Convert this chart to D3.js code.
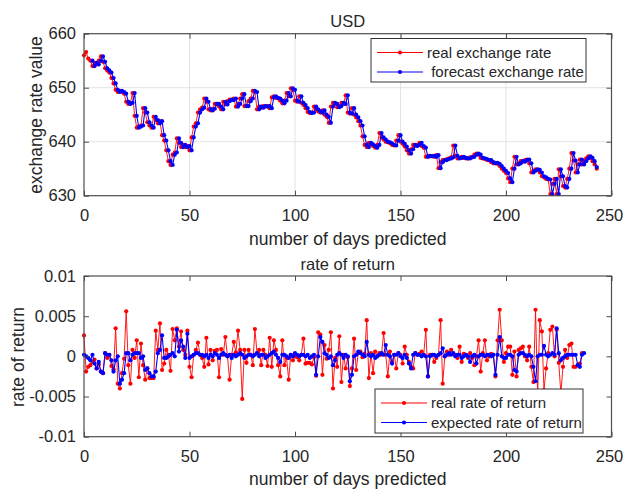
<!DOCTYPE html>
<html>
<head>
<meta charset="utf-8">
<script src="https://cdn.jsdelivr.net/npm/d3@7/dist/d3.min.js"></script>
<style>
  html, body { margin: 0; padding: 0; background: #fff; }
  svg { display: block; }
  text { font-family: "Liberation Sans", Arial, Helvetica, sans-serif; fill: #262626; }
</style>
</head>
<body>
<svg id="chart" width="624" height="489"></svg>
<script>
// ---------------- DATA ----------------
const topTitle = "USD";
const bottomTitle = "rate of return";
const xLabel = "number of days predicted";
const topYLabel = "exchange rate value";
const bottomYLabel = "rate of return";
const topLegend = ["real exchange rate", " forecast exchange rate"];
const bottomLegend = ["real rate of return", "expected rate of return"];
const xTicks = [0, 50, 100, 150, 200, 250];
const topYTicks = [630, 640, 650, 660];
const bottomYTicks = [-0.01, -0.005, 0, 0.005, 0.01];
const bottomYTickLabels = ["-0.01", "-0.005", "0", "0.005", "0.01"];

const realRate = [
656.0,656.6,655.4,655.0,654.0,654.6,654.3,655.0,655.8,654.8,
653.6,653.2,652.8,651.8,650.8,649.6,649.2,649.4,649.2,648.9,
647.4,647.0,647.2,649.0,644.8,642.6,642.8,643.0,646.2,645.4,
643.6,643.0,642.6,644.6,644.0,643.4,643.8,641.2,640.2,638.4,
636.4,635.7,637.6,638.0,640.6,639.8,639.0,639.4,639.0,639.2,
638.4,640.8,642.8,643.4,645.4,646.0,646.3,648.0,647.4,646.0,
645.8,646.1,647.0,647.0,646.5,646.0,647.4,646.9,647.5,647.8,
647.7,648.0,646.5,647.0,648.0,648.8,646.6,646.6,647.5,648.0,
649.4,649.2,646.0,646.5,646.3,646.6,646.5,646.6,646.2,648.2,
648.4,648.1,648.0,647.6,647.1,647.6,649.0,648.4,649.9,649.6,
647.6,647.4,648.4,647.2,646.8,646.2,645.5,645.3,645.4,646.5,
646.0,645.6,645.4,645.8,645.0,644.6,643.5,646.5,647.2,647.0,
646.4,646.6,647.2,647.0,648.6,645.4,645.2,646.2,645.0,644.5,
643.8,643.0,641.0,639.4,639.0,639.8,639.5,639.2,638.9,639.4,
641.6,640.8,640.4,640.0,639.9,639.7,639.4,639.3,640.2,641.2,
640.0,639.6,639.1,638.4,637.8,638.6,639.4,639.2,639.4,639.8,
639.2,638.9,637.2,637.4,637.3,637.4,637.2,637.5,635.1,636.2,
636.6,636.6,636.8,636.9,637.1,639.3,637.4,636.9,637.0,637.2,
637.0,636.9,636.9,637.1,637.2,637.6,637.8,637.6,637.0,636.9,
636.8,636.6,636.6,636.2,636.0,636.1,635.9,635.5,635.0,634.6,
634.2,633.2,632.5,635.0,637.2,635.8,636.0,636.4,636.3,636.6,
636.7,636.0,634.3,634.6,634.9,634.8,634.3,633.6,633.4,633.1,
633.0,630.3,632.2,633.1,630.3,634.9,633.6,631.8,631.5,633.1,
635.0,637.9,636.5,634.3,635.8,636.7,635.8,636.4,636.9,637.3,
637.0,636.4,635.8,635.0
];

const forecastRate = [
null,null,null,null,655.0,654.0,654.6,654.3,655.0,655.8,
654.8,653.6,653.2,652.8,651.8,650.8,649.6,649.2,649.4,649.2,
648.9,647.4,647.0,647.2,649.0,644.8,642.6,642.8,643.0,646.2,
645.4,643.6,643.0,642.6,644.6,644.0,643.4,643.8,641.2,640.2,
638.4,636.4,635.7,637.6,638.0,640.6,639.8,639.0,639.4,639.0,
639.2,638.4,640.8,642.8,643.4,645.4,646.0,646.3,648.0,647.4,
646.0,645.8,646.1,647.0,647.0,646.5,646.0,647.4,646.9,647.5,
647.8,647.7,648.0,646.5,647.0,648.0,648.8,646.6,646.6,647.5,
648.0,649.4,649.2,646.0,646.5,646.3,646.6,646.5,646.6,646.2,
648.2,648.4,648.1,648.0,647.6,647.1,647.6,649.0,648.4,649.9,
649.6,647.6,647.4,648.4,647.2,646.8,646.2,645.5,645.3,645.4,
646.5,646.0,645.6,645.4,645.8,645.0,644.6,643.5,646.5,647.2,
647.0,646.4,646.6,647.2,647.0,648.6,645.4,645.2,646.2,645.0,
644.5,643.8,643.0,641.0,639.4,639.0,639.8,639.5,639.2,638.9,
639.4,641.6,640.8,640.4,640.0,639.9,639.7,639.4,639.3,640.2,
641.2,640.0,639.6,639.1,638.4,637.8,638.6,639.4,639.2,639.4,
639.8,639.2,638.9,637.2,637.4,637.3,637.4,637.2,637.5,635.1,
636.2,636.6,636.6,636.8,636.9,637.1,639.3,637.4,636.9,637.0,
637.2,637.0,636.9,636.9,637.1,637.2,637.6,637.8,637.6,637.0,
636.9,636.8,636.6,636.6,636.2,636.0,636.1,635.9,635.5,635.0,
634.6,634.2,633.2,632.5,635.0,637.2,635.8,636.0,636.4,636.3,
636.6,636.7,636.0,634.3,634.6,634.9,634.8,634.3,633.6,633.4,
633.1,633.0,630.3,632.2,633.1,630.3,634.9,633.6,631.8,631.5,
633.1,635.0,637.9,636.5,634.3,635.8,636.7,635.8,636.4,636.9,
637.3,637.0,636.4,635.3
];

const realReturn = [
0.0026,-0.0019,-0.0013,-0.0011,-0.0007,-0.0004,-0.0015,-0.0010,-0.0019,-0.0021,
0.0004,-0.0002,0.0002,-0.0012,-0.0016,0.0035,-0.0034,-0.0040,-0.0021,-0.0003,
0.0056,-0.0011,-0.0034,0.0008,-0.0002,0.0020,-0.0026,0.0016,-0.0011,-0.0029,
-0.0015,-0.0027,-0.0027,-0.0027,0.0032,0.0008,0.0041,-0.0017,-0.0009,0.0008,
0.0002,-0.0018,0.0034,0.0020,0.0035,0.0012,0.0031,0.0008,0.0002,0.0032,
-0.0013,-0.0026,0.0002,0.0008,0.0017,0.0002,-0.0002,-0.0013,0.0023,-0.0010,
0.0008,-0.0005,0.0007,0.0008,-0.0026,0.0009,0.0002,0.0024,0.0000,-0.0029,
0.0002,0.0018,0.0005,0.0032,0.0008,-0.0053,0.0008,-0.0008,0.0008,0.0002,
-0.0011,0.0034,0.0004,0.0008,-0.0011,0.0008,0.0002,-0.0012,0.0023,-0.0013,
0.0020,0.0008,-0.0011,-0.0025,0.0020,-0.0011,-0.0002,-0.0029,0.0002,-0.0005,
0.0000,-0.0001,-0.0005,0.0002,0.0022,-0.0009,-0.0008,-0.0008,-0.0010,-0.0001,
-0.0024,0.0030,0.0027,-0.0023,0.0014,-0.0003,0.0008,0.0030,-0.0040,-0.0002,
-0.0013,0.0025,-0.0032,0.0002,-0.0015,-0.0001,-0.0037,-0.0015,0.0022,-0.0017,
0.0004,0.0006,-0.0001,0.0003,0.0045,-0.0027,0.0004,-0.0021,0.0006,0.0000,
0.0004,0.0002,0.0029,0.0002,-0.0025,0.0006,-0.0007,0.0002,-0.0015,0.0004,
0.0002,-0.0009,0.0012,0.0002,-0.0007,-0.0013,-0.0015,0.0004,0.0002,0.0003,
0.0006,0.0002,0.0033,-0.0025,0.0002,0.0002,-0.0007,-0.0002,0.0002,0.0045,
-0.0034,0.0000,0.0006,0.0002,0.0008,0.0003,0.0002,-0.0002,0.0012,-0.0007,
0.0003,0.0002,-0.0002,0.0004,-0.0002,-0.0011,0.0000,0.0020,-0.0019,0.0004,
0.0020,-0.0005,0.0000,0.0003,0.0002,-0.0025,0.0020,0.0058,0.0020,-0.0007,
0.0004,0.0012,0.0012,-0.0023,0.0006,-0.0025,0.0008,0.0010,0.0012,0.0000,
-0.0005,0.0012,-0.0013,-0.0032,0.0058,-0.0048,0.0045,0.0031,-0.0042,-0.0015,
0.0004,0.0033,0.0037,0.0000,0.0033,-0.0008,-0.0046,-0.0013,0.0008,-0.0002,
0.0014,0.0016,-0.0013,-0.0013,-0.0011,-0.0009,0.0004
];

const expectedReturn = [
0.0002,0.0000,-0.0002,-0.0005,0.0002,-0.0009,-0.0015,-0.0007,-0.0019,-0.0021,
0.0004,0.0002,0.0002,-0.0005,-0.0019,-0.0005,0.0000,-0.0034,-0.0029,-0.0021,
0.0004,0.0004,-0.0005,0.0002,0.0004,0.0004,0.0004,-0.0002,0.0000,-0.0017,
-0.0015,-0.0021,-0.0025,-0.0025,-0.0019,0.0004,0.0008,0.0026,-0.0002,-0.0002,
0.0000,0.0002,0.0004,0.0000,0.0033,0.0006,0.0020,0.0012,-0.0002,0.0028,
-0.0002,0.0000,0.0002,0.0004,0.0004,0.0002,0.0002,0.0000,0.0002,-0.0002,
0.0002,0.0000,0.0004,0.0002,-0.0002,0.0002,0.0004,0.0002,0.0000,0.0002,
-0.0002,0.0002,0.0000,0.0002,0.0004,0.0002,-0.0002,0.0000,0.0002,0.0002,
0.0000,0.0002,0.0004,0.0000,0.0002,0.0002,-0.0002,0.0000,0.0002,0.0004,
0.0006,0.0002,-0.0002,-0.0007,0.0002,0.0002,0.0000,-0.0002,0.0002,0.0000,
0.0004,0.0002,0.0000,0.0002,0.0002,0.0000,0.0002,-0.0002,0.0000,0.0002,
-0.0023,0.0000,0.0024,0.0018,0.0004,0.0002,-0.0002,0.0000,-0.0011,-0.0005,
0.0002,0.0004,0.0002,-0.0002,0.0002,0.0000,-0.0031,-0.0023,0.0000,0.0002,
0.0006,0.0004,0.0002,0.0000,0.0018,0.0002,0.0000,0.0002,-0.0002,0.0000,
0.0002,0.0004,0.0002,0.0014,0.0002,0.0000,-0.0009,0.0002,0.0002,0.0004,
0.0000,-0.0002,0.0002,-0.0002,-0.0009,-0.0015,0.0002,0.0004,0.0002,0.0002,
0.0000,0.0002,0.0000,-0.0025,0.0000,0.0002,0.0002,0.0000,0.0002,0.0004,
0.0010,0.0000,0.0002,0.0004,0.0002,0.0004,0.0000,0.0002,0.0002,-0.0002,
0.0000,0.0002,0.0000,-0.0007,0.0000,0.0002,-0.0009,0.0000,0.0002,0.0002,
0.0000,0.0002,0.0002,0.0000,0.0002,-0.0023,0.0002,0.0024,0.0000,-0.0002,
-0.0002,0.0002,0.0002,0.0000,-0.0017,-0.0019,0.0002,0.0004,0.0004,0.0002,
0.0000,0.0002,0.0000,-0.0013,-0.0031,0.0000,0.0002,0.0002,0.0013,0.0002,
0.0000,0.0002,0.0004,0.0002,0.0035,0.0004,-0.0005,-0.0002,0.0000,0.0002,
0.0002,0.0002,0.0002,0.0002,-0.0011,-0.0013,0.0002,0.0004
];

// ---------------- DRAWING ----------------
const svg = d3.select("#chart");
const RED = "#ff0000", BLUE = "#0000ff";
const AXIS = "#4d4d4d";

function panel(opts) {
  const { left, right, top, bottom } = opts.box;
  const x = d3.scaleLinear().domain([0, 250]).range([left, right]);
  const y = d3.scaleLinear().domain(opts.yDomain).range([bottom, top]);
  const g = svg.append("g");

  // grid
  if (opts.grid) {
    g.selectAll(".gx").data(xTicks.slice(1, -1)).join("line")
      .attr("x1", d => x(d)).attr("x2", d => x(d)).attr("y1", top).attr("y2", bottom)
      .attr("stroke", "#e3e3e3").attr("stroke-width", 1);
    g.selectAll(".gy").data(opts.yTicks.slice(1, -1)).join("line")
      .attr("x1", left).attr("x2", right).attr("y1", d => y(d)).attr("y2", d => y(d))
      .attr("stroke", "#e3e3e3").attr("stroke-width", 1);
  }

  // series
  opts.series.forEach(s => {
    const pts = s.values.map((v, i) => ({ i, v })).filter(d => d.v !== null);
    const line = d3.line().x(d => x(d.i)).y(d => y(d.v));
    g.append("path").datum(pts).attr("d", line)
      .attr("fill", "none").attr("stroke", s.color).attr("stroke-width", s.width);
    g.selectAll(null).data(pts).join("circle")
      .attr("cx", d => x(d.i)).attr("cy", d => y(d.v)).attr("r", 2.1)
      .attr("fill", s.color);
  });

  // axes (ticks inward, box on)
  const styleAxis = sel => {
    sel.select(".domain").remove();
    sel.selectAll(".tick line").attr("stroke", AXIS);
    sel.selectAll(".tick text").attr("fill", "#262626")
      .style("font-size", "16.5px").style("font-family", "'Liberation Sans', Arial, sans-serif");
  };
  g.append("g").attr("transform", `translate(0,${bottom})`)
    .call(d3.axisBottom(x).tickValues(xTicks).tickSize(-5).tickPadding(opts.xPad).tickFormat(d3.format("d")))
    .call(styleAxis)
    .call(sel => sel.selectAll(".tick text").filter(d => d === 250).attr("dx", "-2.5px"));
  g.append("g").attr("transform", `translate(0,${top})`)
    .call(d3.axisTop(x).tickValues(xTicks).tickSize(-5).tickFormat(""))
    .call(styleAxis);
  g.append("g").attr("transform", `translate(${left},0)`)
    .call(d3.axisLeft(y).tickValues(opts.yTicks).tickSize(-5).tickPadding(8)
      .tickFormat((d, i) => opts.yTickLabels[i]))
    .call(styleAxis);
  g.append("g").attr("transform", `translate(${right},0)`)
    .call(d3.axisRight(y).tickValues(opts.yTicks).tickSize(-5).tickFormat(""))
    .call(styleAxis);
  g.append("rect").attr("x", left).attr("y", top)
    .attr("width", right - left).attr("height", bottom - top)
    .attr("fill", "none").attr("stroke", AXIS).attr("stroke-width", 1.2);

  // titles
  g.append("text").attr("x", (left + right) / 2).attr("y", opts.titleY)
    .attr("text-anchor", "middle").style("font-size", "16.5px").text(opts.title);
  g.append("text").attr("x", (left + right) / 2).attr("y", opts.xLabelY)
    .attr("text-anchor", "middle").style("font-size", "17.5px").text(xLabel);
  g.append("text").attr("transform", `translate(${opts.yLabelX},${opts.yLabelY}) rotate(-90)`)
    .attr("text-anchor", "middle").attr("dy", "0.35em").style("font-size", "17.5px").text(opts.yLabel);

  // legend
  const L = opts.legend;
  const lg = g.append("g");
  lg.append("rect").attr("x", L.x).attr("y", L.y).attr("width", L.w).attr("height", L.h)
    .attr("fill", "#fff").attr("stroke", "#333").attr("stroke-width", 1);
  opts.series.forEach((s, k) => {
    const cy = L.y + 14 + k * 19.5;
    lg.append("line").attr("x1", L.x + 6).attr("x2", L.x + 52).attr("y1", cy).attr("y2", cy)
      .attr("stroke", s.color).attr("stroke-width", 1);
    lg.append("circle").attr("cx", L.x + 29).attr("cy", cy).attr("r", 2.1).attr("fill", s.color);
    lg.append("text").attr("x", L.x + 56).attr("y", cy).attr("dy", "0.35em")
      .style("font-size", "15px").style("white-space", "pre").attr("xml:space", "preserve")
      .text(L.labels[k]);
  });
}

panel({
  box: { left: 84, right: 611.5, top: 33.7, bottom: 195.7 },
  yDomain: [630, 660], yTicks: topYTicks, yTickLabels: topYTicks.map(String),
  grid: true, xPad: 14,
  series: [
    { values: realRate, color: RED, width: 0.9 },
    { values: forecastRate, color: BLUE, width: 1.1 }
  ],
  title: topTitle, titleY: 26.7, xLabelY: 245, yLabel: topYLabel, yLabelX: 36, yLabelY: 115,
  legend: { x: 371, y: 38.5, w: 215, h: 43.5, labels: topLegend }
});

panel({
  box: { left: 84, right: 611.5, top: 276, bottom: 436.7 },
  yDomain: [-0.01, 0.01], yTicks: bottomYTicks, yTickLabels: bottomYTickLabels,
  grid: false, xPad: 13.5,
  series: [
    { values: realReturn, color: RED, width: 0.9 },
    { values: expectedReturn, color: BLUE, width: 1.1 }
  ],
  title: bottomTitle, titleY: 269.5, xLabelY: 484.5, yLabel: bottomYLabel, yLabelX: 17.5, yLabelY: 357,
  legend: { x: 375, y: 389, w: 208, h: 44, labels: bottomLegend }
});
</script>
</body>
</html>
